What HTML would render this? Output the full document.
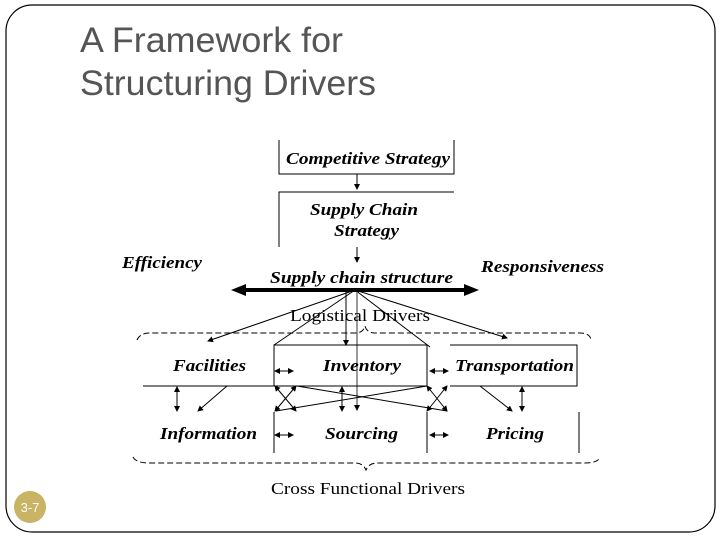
<!DOCTYPE html>
<html><head><meta charset="utf-8"><style>
html,body{margin:0;padding:0;background:#fff;}
svg{display:block;}
.b{font-family:"Liberation Serif",serif;font-weight:bold;font-style:italic;font-size:17px;fill:#000;}
.s{font-family:"Liberation Serif",serif;font-size:17px;fill:#000;}
</style></head><body>
<svg width="720" height="540" viewBox="0 0 720 540" xmlns="http://www.w3.org/2000/svg">
<defs>
<marker id="a" markerWidth="6" markerHeight="6" refX="5" refY="3" orient="auto" markerUnits="userSpaceOnUse"><path d="M0,0 L6,3 L0,6 z" fill="#000"/></marker>
<marker id="as" markerWidth="6" markerHeight="6" refX="1" refY="3" orient="auto" markerUnits="userSpaceOnUse"><path d="M6,0 L0,3 L6,6 z" fill="#000"/></marker>
</defs>
<rect x="6" y="5" width="709" height="527" rx="26" fill="none" stroke="#000" stroke-width="1.2"/>
<text x="80" y="52" font-family="Liberation Sans,sans-serif" font-size="35" fill="#555" textLength="263" lengthAdjust="spacingAndGlyphs">A Framework for</text>
<text x="80" y="95" font-family="Liberation Sans,sans-serif" font-size="35" fill="#555" textLength="296" lengthAdjust="spacingAndGlyphs">Structuring Drivers</text>
<circle cx="30" cy="507" r="16" fill="#c8b464"/>
<text x="30" y="512" text-anchor="middle" font-family="Liberation Sans,sans-serif" font-size="13" fill="#fff">3-7</text>
<g stroke="#000" stroke-width="1" fill="none">
<path d="M279,140 V174 H454 V140"/>
<path d="M279,247 V192 H454"/>
<line x1="357" y1="174" x2="357" y2="189" marker-end="url(#a)"/>
<line x1="357" y1="247" x2="357" y2="262" marker-end="url(#a)"/>
<line x1="355" y1="290" x2="208" y2="341" marker-end="url(#a)"/>
<line x1="355" y1="290" x2="507" y2="338" marker-end="url(#a)"/>
<line x1="355" y1="290" x2="274" y2="345"/>
<line x1="355" y1="290" x2="430" y2="347"/>
<line x1="346" y1="292" x2="346" y2="345" marker-end="url(#a)"/>
<line x1="357" y1="290" x2="357" y2="410" stroke="#777" stroke-width="1.5" marker-end="url(#a)"/>
<path d="M137,340 Q140,333 150,333 H355 Q363,333 365,326 Q367,333 375,333 H580 Q590,333 591,340" stroke-dasharray="6,3"/>
<path d="M143,386 H427"/>
<path d="M274,386 V345 H427 V386"/>
<path d="M450,345 H577 V386 H450"/>
<path d="M274,412 V453 M427,412 V453 M579,412 V453"/>
<line x1="177" y1="387" x2="177" y2="411" marker-start="url(#as)" marker-end="url(#a)"/>
<line x1="342" y1="387" x2="342" y2="411" marker-start="url(#as)" marker-end="url(#a)"/>
<line x1="522" y1="387" x2="522" y2="411" marker-start="url(#as)" marker-end="url(#a)"/>
<line x1="227" y1="386" x2="198" y2="411" marker-end="url(#a)"/>
<line x1="480" y1="386" x2="512" y2="411" marker-end="url(#a)"/>
<line x1="275" y1="371" x2="293" y2="371" marker-start="url(#as)" marker-end="url(#a)"/>
<line x1="430" y1="371" x2="448" y2="371" marker-start="url(#as)" marker-end="url(#a)"/>
<line x1="275" y1="435" x2="293" y2="435" marker-start="url(#as)" marker-end="url(#a)"/>
<line x1="430" y1="435" x2="448" y2="435" marker-start="url(#as)" marker-end="url(#a)"/>
<line x1="275" y1="386" x2="296" y2="411" marker-start="url(#as)" marker-end="url(#a)"/>
<line x1="296" y1="386" x2="275" y2="411" marker-start="url(#as)" marker-end="url(#a)"/>
<line x1="427" y1="386" x2="447" y2="411" marker-start="url(#as)" marker-end="url(#a)"/>
<line x1="447" y1="386" x2="427" y2="411" marker-start="url(#as)" marker-end="url(#a)"/>
<line x1="297" y1="386" x2="447" y2="411"/>
<line x1="276" y1="411" x2="427" y2="386"/>
<path d="M133,457 Q136,463 150,463 H355 Q363,463 366,470 Q369,463 377,463 H585 Q598,463 600,457" stroke-dasharray="6,3"/>
</g>
<line x1="240" y1="290" x2="470" y2="290" stroke="#000" stroke-width="4"/>
<path d="M231,290 L246,284 L246,296 z" fill="#000"/>
<path d="M479,290 L464,284 L464,296 z" fill="#000"/>
<g lengthAdjust="spacingAndGlyphs">
<text class="b" x="286" y="164" textLength="164" lengthAdjust="spacingAndGlyphs">Competitive Strategy</text>
<text class="b" x="310" y="215" textLength="108" lengthAdjust="spacingAndGlyphs">Supply Chain</text>
<text class="b" x="334" y="236" textLength="65" lengthAdjust="spacingAndGlyphs">Strategy</text>
<text class="b" x="122" y="268" textLength="80" lengthAdjust="spacingAndGlyphs">Efficiency</text>
<text class="b" x="481" y="272" textLength="123" lengthAdjust="spacingAndGlyphs">Responsiveness</text>
<text class="b" x="270" y="283" textLength="183" lengthAdjust="spacingAndGlyphs">Supply chain structure</text>
<text class="s" x="290" y="321" textLength="140" lengthAdjust="spacingAndGlyphs">Logistical Drivers</text>
<text class="b" x="173" y="371" textLength="73" lengthAdjust="spacingAndGlyphs">Facilities</text>
<text class="b" x="323" y="371" textLength="78" lengthAdjust="spacingAndGlyphs">Inventory</text>
<text class="b" x="455" y="371" textLength="119" lengthAdjust="spacingAndGlyphs">Transportation</text>
<text class="b" x="160" y="439" textLength="97" lengthAdjust="spacingAndGlyphs">Information</text>
<text class="b" x="325" y="439" textLength="73" lengthAdjust="spacingAndGlyphs">Sourcing</text>
<text class="b" x="486" y="439" textLength="58" lengthAdjust="spacingAndGlyphs">Pricing</text>
<text class="s" x="271" y="494" textLength="194" lengthAdjust="spacingAndGlyphs">Cross Functional Drivers</text>
</g>
</svg>
</body></html>
